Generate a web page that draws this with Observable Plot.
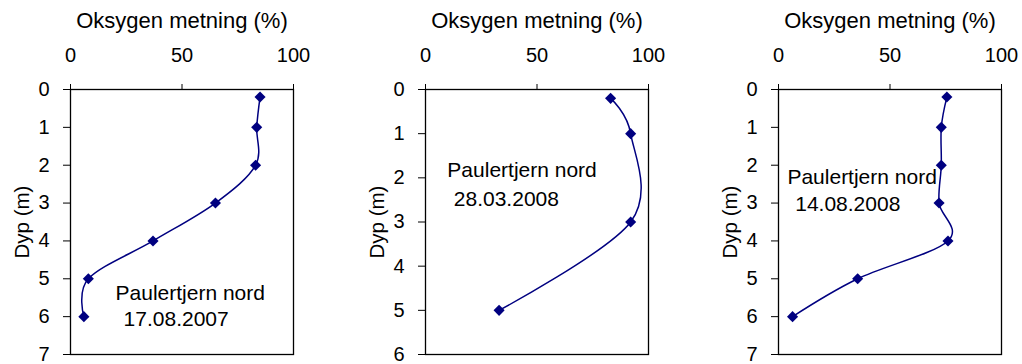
<!DOCTYPE html>
<html>
<head>
<meta charset="utf-8">
<script src="https://cdn.jsdelivr.net/npm/d3@7"></script>
<script src="https://cdn.jsdelivr.net/npm/@observablehq/plot@0.6"></script>
<style>
  html, body { margin: 0; padding: 0; background: #fff; }
  #wrap { position: relative; width: 1022px; height: 364px; overflow: hidden; background: #fff; }
  #wrap > svg { position: absolute; top: 0; }
</style>
</head>
<body>
<div id="wrap"></div>
<script>
// ---- data ----
const xLabel = "Oksygen metning (%)";
const yLabel = "Dyp (m)";
const station = "Paulertjern nord";

const depth1 = [0.2, 1, 2, 3, 4, 5, 6];
const oxygen1 = [85, 83.5, 83, 65, 37, 8, 6];
const date1 = "17.08.2007";

const depth2 = [0.2, 1, 3, 5];
const oxygen2 = [83, 92, 92, 33];
const date2 = "28.03.2008";

const depth3 = [0.2, 1, 2, 3, 4, 5, 6];
const oxygen3 = [75.5, 73, 73, 72, 76, 35.5, 6.3];
const date3 = "14.08.2008";

const xTicks = [0, 50, 100];
const yTicks1 = [0, 1, 2, 3, 4, 5, 6, 7];
const yTicks2 = [0, 1, 2, 3, 4, 5, 6];
const yTicks3 = [0, 1, 2, 3, 4, 5, 6, 7];

// annotation anchors (data coordinates)
const notes1 = [{x: 20.2, y: 5.39, t: station}, {x: 23.8, y: 6.07, t: date1}];
const notes2 = [{x: 9.8, y: 1.83, t: station}, {x: 12.7, y: 2.49, t: date2}];
const notes3 = [{x: 4.0, y: 2.32, t: station}, {x: 7.5, y: 3.02, t: date3}];

const NAVY = "#000080";
const FONT = "'Liberation Sans', Arial, sans-serif";

function panel(depths, values, yTicks, notes, left) {
  const data = depths.map((d, i) => ({depth: d, value: values[i]}));
  const svg = Plot.plot({
    width: 330,
    height: 364,
    marginLeft: 70,
    marginRight: 37,
    marginTop: 89,
    marginBottom: 10,
    style: {fontFamily: FONT, fontSize: "20px", color: "#000", background: "transparent"},
    x: {domain: [0, 100]},
    y: {domain: [0, yTicks[yTicks.length - 1]], reverse: true},
    marks: [
      Plot.frame({stroke: "#000", strokeWidth: 1.3}),
      Plot.axisX({anchor: "top", ticks: xTicks, tickFormat: d => String(d), tickSize: 6, tickPadding: 22, label: null, fontSize: 20, stroke: "#000"}),
      Plot.axisY({anchor: "left", ticks: yTicks, tickFormat: d => String(d), tickSize: 7, tickPadding: 14, label: null, fontSize: 20, stroke: "#000"}),
      Plot.text([xLabel], {frameAnchor: "top", dy: -69, text: d => d, fontSize: 22, fill: "#000", textAnchor: "middle", lineAnchor: "middle"}),
      Plot.text([yLabel], {frameAnchor: "left", dx: -48, rotate: -90, text: d => d, fontSize: 20.5, fill: "#000", textAnchor: "middle", lineAnchor: "middle"}),
      Plot.line(data, {x: "value", y: "depth", curve: "cardinal", stroke: NAVY, strokeWidth: 1.5}),
      Plot.dot(data, {x: "value", y: "depth", symbol: "diamond2", r: 5, fill: NAVY, stroke: "none"}),
      Plot.text(notes, {x: "x", y: "y", text: "t", textAnchor: "start", lineAnchor: "middle", fontSize: 21, fill: "#000"})
    ]
  });
  svg.style.left = left + "px";
  document.getElementById("wrap").appendChild(svg);
}

panel(depth1, oxygen1, yTicks1, notes1, 0);
panel(depth2, oxygen2, yTicks2, notes2, 355);
panel(depth3, oxygen3, yTicks3, notes3, 708);
</script>
</body>
</html>
